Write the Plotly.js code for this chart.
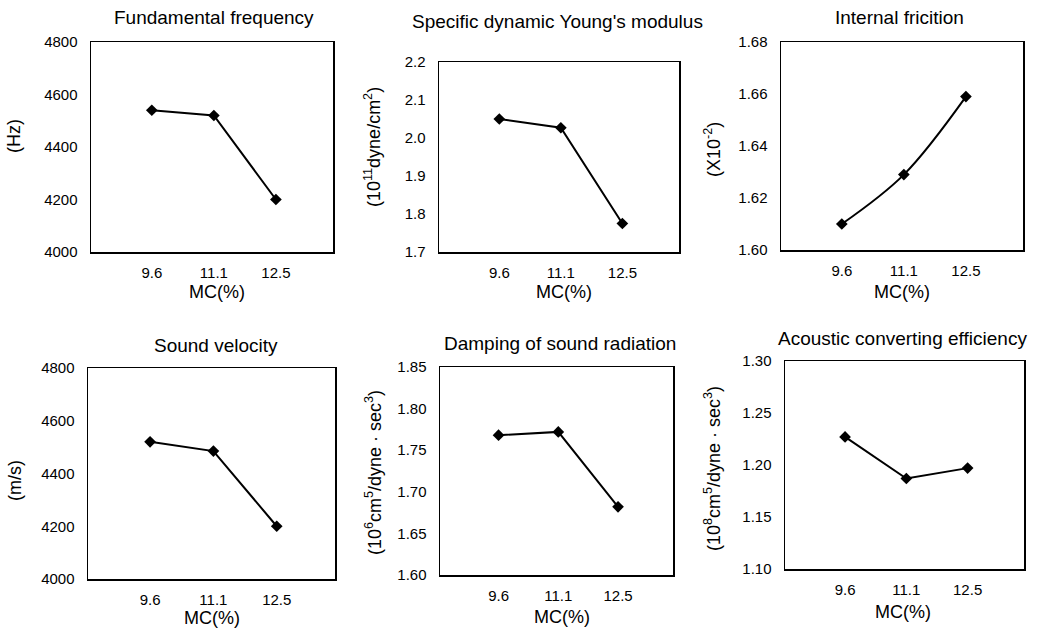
<!DOCTYPE html>
<html>
<head>
<meta charset="utf-8">
<script src="https://cdn.plot.ly/plotly-3.0.1.min.js"></script>
<style>html,body{margin:0;padding:0;background:#fff;}#chart{width:1045px;height:629px;}</style>
</head>
<body>
<div id="chart"></div>
<script>
var mcLabels = ['9.6', '11.1', '12.5'];
var fundamentalFrequency = [4540, 4520, 4200];
var specificYoungs = [2.050, 2.027, 1.775];
var internalFriction = [1.610, 1.629, 1.659];
var soundVelocity = [4520, 4485, 4200];
var dampingRadiation = [1.768, 1.772, 1.682];
var acousticEfficiency = [1.227, 1.187, 1.197];

var panelTitles = ['Fundamental frequency', "Specific dynamic Young's modulus", 'Internal fricition',
                   'Sound velocity', 'Damping of sound radiation', 'Acoustic converting efficiency'];
var yTitles = ['(Hz)', '(10<sup>11</sup>dyne/cm<sup>2</sup>)', '(X10<sup>-2</sup>)',
               '(m/s)', '(10<sup>6</sup>cm<sup>5</sup>/dyne \u00b7 sec<sup>3</sup>)', '(10<sup>8</sup>cm<sup>5</sup>/dyne \u00b7 sec<sup>3</sup>)'];
var xTitle = 'MC(%)';
var yRanges = [[4000, 4800], [1.7, 2.2], [1.60, 1.68], [4000, 4800], [1.60, 1.85], [1.10, 1.30]];
var yTicks = [
  [4000, 4200, 4400, 4600, 4800],
  [1.7, 1.8, 1.9, 2.0, 2.1, 2.2],
  [1.60, 1.62, 1.64, 1.66, 1.68],
  [4000, 4200, 4400, 4600, 4800],
  [1.60, 1.65, 1.70, 1.75, 1.80, 1.85],
  [1.10, 1.15, 1.20, 1.25, 1.30]
];
var yFormats = ['', '.1f', '.2f', '', '.2f', '.2f'];
var series = [fundamentalFrequency, specificYoungs, internalFriction, soundVelocity, dampingRadiation, acousticEfficiency];
var lineShapes = ['linear', 'linear', 'spline', 'linear', 'linear', 'linear'];

var W = 1045, H = 629;
// plot boxes in pixels: [left, right, top, bottom]
var boxes = [
  [91, 333, 42, 252],
  [439, 679, 62, 252],
  [781, 1023, 42, 250],
  [88, 335, 368, 579],
  [440, 673, 367, 575],
  [785, 1024, 361, 569]
];
var titlePos = [[214, 18], [557, 22], [899, 18], [216, 345], [560, 343], [902, 338]];
var yTitlePos = [[14, 136], [373, 147], [712, 150], [15, 481], [373, 473], [712, 469]];
var xTitlePos = [[217, 292], [564, 292], [902, 292], [212, 618], [562, 617], [903, 612]];

var FONT = '"Liberation Sans", Arial, Helvetica, sans-serif';
var traces = [], annotations = [];
var layout = {
  width: W, height: H,
  margin: {l: 0, r: 0, t: 0, b: 0},
  paper_bgcolor: '#fff', plot_bgcolor: '#fff',
  showlegend: false,
  font: {family: FONT, color: '#000'}
};

for (var i = 0; i < 6; i++) {
  var n = i + 1;
  var xa = 'xaxis' + (n === 1 ? '' : n), ya = 'yaxis' + (n === 1 ? '' : n);
  var b = boxes[i];
  traces.push({
    x: mcLabels, y: series[i], type: 'scatter', mode: 'lines+markers',
    xaxis: 'x' + (n === 1 ? '' : n), yaxis: 'y' + (n === 1 ? '' : n),
    line: {color: '#000', width: 2, shape: lineShapes[i]},
    marker: {symbol: 'diamond', size: 9, color: '#000'},
    cliponaxis: false
  });
  layout[xa] = {
    type: 'category', domain: [b[0] / W, b[1] / W], range: [-0.98, 2.92],
    anchor: 'y' + (n === 1 ? '' : n),
    showline: true, mirror: true, linecolor: '#000', linewidth: 1.5,
    showgrid: false, zeroline: false, ticks: '', ticklabelstandoff: 6,
    tickfont: {family: FONT, size: 15, color: '#000'}, fixedrange: true
  };
  layout[ya] = {
    domain: [1 - b[3] / H, 1 - b[2] / H], range: yRanges[i],
    anchor: 'x' + (n === 1 ? '' : n),
    tickvals: yTicks[i], tickformat: yFormats[i],
    showline: true, mirror: true, linecolor: '#000', linewidth: 1.5,
    showgrid: false, zeroline: false, ticks: '', ticklabelstandoff: 9,
    tickfont: {family: FONT, size: 15, color: '#000'}, fixedrange: true
  };
  annotations.push({
    text: panelTitles[i], xref: 'paper', yref: 'paper',
    x: titlePos[i][0] / W, y: 1 - titlePos[i][1] / H, xanchor: 'center', yanchor: 'middle',
    showarrow: false, font: {family: FONT, size: 19, color: '#000'}
  });
  annotations.push({
    text: yTitles[i], xref: 'paper', yref: 'paper', textangle: -90,
    x: yTitlePos[i][0] / W, y: 1 - yTitlePos[i][1] / H, xanchor: 'center', yanchor: 'middle',
    showarrow: false, font: {family: FONT, size: 18, color: '#000'}
  });
  annotations.push({
    text: xTitle, xref: 'paper', yref: 'paper',
    x: xTitlePos[i][0] / W, y: 1 - xTitlePos[i][1] / H, xanchor: 'center', yanchor: 'middle',
    showarrow: false, font: {family: FONT, size: 18, color: '#000'}
  });
}
layout.annotations = annotations;

Plotly.newPlot('chart', traces, layout, {displayModeBar: false, staticPlot: true});
</script>
</body>
</html>
